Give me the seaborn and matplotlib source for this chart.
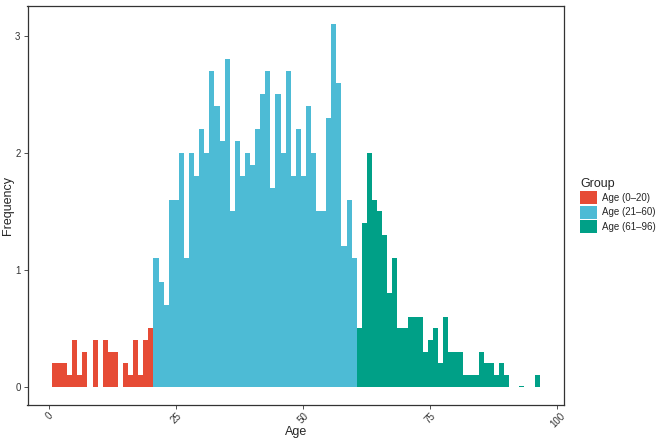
import numpy as np
import pandas as pd
import seaborn as sns
import matplotlib.pyplot as plt

ages = list(range(1, 97))
freq_0_20 = [0.2, 0.2, 0.2, 0.1, 0.4, 0.1, 0.3, 0.0, 0.4, 0.0,
             0.4, 0.3, 0.3, 0.0, 0.2, 0.1, 0.4, 0.1, 0.4, 0.5]
freq_21_60 = [1.1, 0.9, 0.7, 1.6, 1.6, 2.0, 1.1, 2.0, 1.8, 2.2,
              2.0, 2.7, 2.4, 2.1, 2.8, 1.5, 2.1, 1.8, 2.0, 1.9,
              2.2, 2.5, 2.7, 1.7, 2.5, 2.0, 2.7, 1.8, 2.2, 1.8,
              2.4, 2.0, 1.5, 1.5, 2.3, 3.1, 2.6, 1.2, 1.6, 1.1]
freq_61_96 = [0.5, 1.4, 2.0, 1.6, 1.5, 1.3, 0.8, 1.1, 0.5, 0.5,
              0.6, 0.6, 0.6, 0.3, 0.4, 0.5, 0.2, 0.6, 0.3, 0.3,
              0.3, 0.1, 0.1, 0.1, 0.3, 0.2, 0.2, 0.1, 0.2, 0.1,
              0.0, 0.0, 0.01, 0.0, 0.0, 0.1]
groups = ['Age (0\u201320)', 'Age (21\u201360)', 'Age (61\u201396)']
colors = ['#E64B35', '#4DBBD5', '#00A087']

df = pd.DataFrame({
    'Age': ages,
    'Frequency': freq_0_20 + freq_21_60 + freq_61_96,
    'Group': [groups[0]] * 20 + [groups[1]] * 40 + [groups[2]] * 36,
})

sns.set_style('white')
plt.rcParams['font.family'] = ['Liberation Sans', 'DejaVu Sans']

fig = plt.figure(figsize=(6.59, 4.43), dpi=100)
ax = fig.add_axes([27.5 / 659, 38 / 443, 536.5 / 659, 399 / 443])

sns.histplot(data=df, x='Age', weights='Frequency', hue='Group',
             hue_order=groups, palette=dict(zip(groups, colors)),
             discrete=True, alpha=1, linewidth=0, ax=ax)

ax.set_xlim(-4.3, 101.3)
ax.set_ylim(-0.155, 3.255)
ax.set_xticks([0, 25, 50, 75, 100])
ax.set_yticks([0, 1, 2, 3])
ax.tick_params(axis='x', labelrotation=45, labelsize=7, length=3, width=0.6,
               colors='#333333', pad=1)
ax.tick_params(axis='y', labelsize=7, length=3, width=0.6, colors='#333333', pad=2)
ax.tick_params(bottom=True, left=True)
for lab in ax.get_xticklabels():
    lab.set_ha('center')
for s in ax.spines.values():
    s.set_visible(True)
    s.set_color('#333333')
    s.set_linewidth(0.9)

ax.set_xlabel('Age', fontsize=9)
ax.set_ylabel('Frequency', fontsize=9)
ax.xaxis.set_label_coords(0.5, -0.052)
ax.yaxis.set_label_coords(-0.026, 0.5)

sns.move_legend(ax, loc='center left', bbox_to_anchor=(1.03, 0.5),
                frameon=False, title='Group', fontsize=7, title_fontsize=9,
                handlelength=1.7, handleheight=1.7, labelspacing=0.15,
                handletextpad=0.6, borderaxespad=0, borderpad=0)
ax.get_legend()._legend_box.align = 'left'

fig.savefig('out.png', dpi=100)
